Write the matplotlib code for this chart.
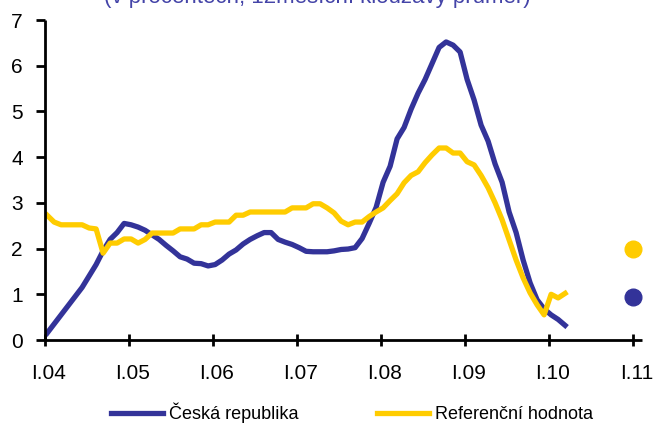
import numpy as np
import matplotlib.pyplot as plt
from matplotlib.transforms import ScaledTranslation

plt.rcParams['font.family'] = ['Liberation Sans', 'DejaVu Sans']

# ---------------------------------------------------------------------------
# data: monthly values, I.04 .. III.10
cz = [0.15, 0.35, 0.55, 0.75, 0.95, 1.15, 1.4, 1.65, 1.95, 2.2, 2.35, 2.55,
      2.52, 2.47, 2.4, 2.3, 2.2, 2.07, 1.95, 1.82, 1.77, 1.68, 1.67, 1.62,
      1.65, 1.75, 1.88, 1.97, 2.1, 2.2, 2.28, 2.35, 2.35, 2.2, 2.14, 2.09,
      2.02, 1.94, 1.93, 1.93, 1.93, 1.95, 1.98, 1.99, 2.02, 2.22, 2.55, 2.9,
      3.45, 3.8, 4.4, 4.65, 5.05, 5.4, 5.7, 6.05, 6.4, 6.52, 6.45, 6.3,
      5.7, 5.25, 4.7, 4.35, 3.85, 3.45, 2.8, 2.35, 1.75, 1.25, 0.88, 0.68,
      0.55, 0.45, 0.32]
ref = [2.73, 2.58, 2.52, 2.52, 2.52, 2.52, 2.45, 2.43, 1.9, 2.12, 2.12, 2.21,
       2.21, 2.12, 2.2, 2.34, 2.34, 2.34, 2.34, 2.43, 2.43, 2.43, 2.52, 2.52,
       2.58, 2.58, 2.58, 2.73, 2.73, 2.8, 2.8, 2.8, 2.8, 2.8, 2.8, 2.89,
       2.89, 2.89, 2.98, 2.98, 2.89, 2.78, 2.6, 2.52, 2.58, 2.58, 2.7, 2.8,
       2.89, 3.05, 3.2, 3.44, 3.6, 3.68, 3.88, 4.05, 4.2, 4.2, 4.09, 4.09,
       3.9, 3.83, 3.6, 3.33, 3.0, 2.63, 2.19, 1.75, 1.36, 1.03, 0.77, 0.55,
       1.0, 0.92, 1.02]
# forecast points for I.11
cz_fc = 0.94
ref_fc = 2.0

years = [2004, 2005, 2006, 2007, 2008, 2009, 2010, 2011]
xlabels = ['I.04', 'I.05', 'I.06', 'I.07', 'I.08', 'I.09', 'I.10', 'I.11']

blue = '#333399'
yellow = '#FFCC00'

# ---------------------------------------------------------------------------
x = 2004 + (np.arange(len(cz)) + 0.3) / 12.0

fig = plt.figure(figsize=(6.56, 4.23), dpi=100)
ax = fig.add_axes([45/656, 1 - 340/423, 597/656, 320/423])

ax.plot(x, cz, color=blue, lw=3.8, solid_joinstyle='round', label='Česká republika')
ax.plot(x, ref, color=yellow, lw=3.8, solid_joinstyle='round', label='Referenční hodnota')
ax.plot([2011], [ref_fc], 'o', color=yellow, ms=12)
ax.plot([2011], [cz_fc], 'o', color=blue, ms=12)

ax.set_xlim(2004, 2011.107)
ax.set_ylim(0, 7)
ax.set_xticks(years)
ax.set_xticklabels(xlabels)
ax.set_yticks(range(0, 8))

for s in ['top', 'right']:
    ax.spines[s].set_visible(False)
for s in ['left', 'bottom']:
    ax.spines[s].set_linewidth(2)
    ax.spines[s].set_capstyle('butt')

ax.tick_params(axis='x', direction='inout', length=9, width=2, pad=13, labelsize=15)
ax.tick_params(axis='y', direction='out', length=6.5, width=2, pad=9.5, labelsize=15)

# labels sit a few pixels right of their ticks in the original
shift = ScaledTranslation(0.04, 0, fig.dpi_scale_trans)
for lab in ax.get_xticklabels():
    lab.set_transform(lab.get_transform() + shift)

fig.text(317/656, 1 - 3/423, '(v procentech, 12měsíční klouzavý průměr)',
         color='#4444a8', fontsize=16, ha='center', va='baseline')

fig.legend(loc='center', bbox_to_anchor=(352/656, 1 - 413/423), ncol=2,
           frameon=False, fontsize=13, handlelength=2.9, handletextpad=0.35,
           columnspacing=4.3, borderpad=0)

fig.savefig('out.png', dpi=100)
